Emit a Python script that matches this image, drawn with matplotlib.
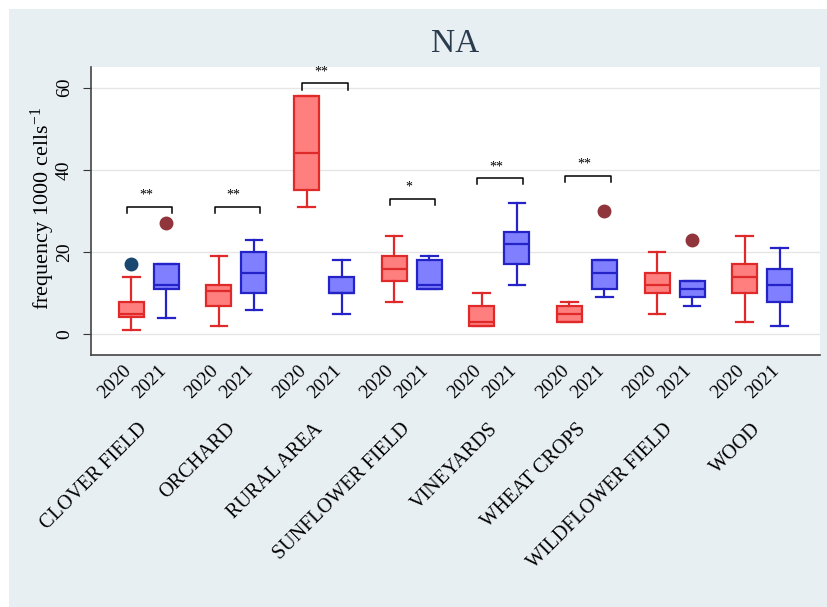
import numpy as np
import matplotlib
matplotlib.use("Agg")
import matplotlib.pyplot as plt
from matplotlib.patches import Rectangle
import matplotlib.transforms as mtransforms

plt.rcParams["font.family"] = ["Liberation Serif", "DejaVu Serif"]
plt.rcParams["mathtext.fontset"] = "custom"
plt.rcParams["mathtext.rm"] = "Liberation Serif"
plt.rcParams["mathtext.it"] = "Liberation Serif:italic"

categories = ["CLOVER FIELD", "ORCHARD", "RURAL AREA", "SUNFLOWER FIELD",
              "VINEYARDS", "WHEAT CROPS", "WILDFLOWER FIELD", "WOOD"]
years = ["2020", "2021"]

# box summaries
lo_2020 = [1, 2, 31, 8, 2, 3, 5, 3]
q1_2020 = [4.2, 7, 35, 13, 2, 3, 10, 10]
med_2020 = [5, 10.5, 44, 16, 3, 5, 12, 14]
q3_2020 = [7.9, 12, 58, 19, 7, 7, 15, 17]
hi_2020 = [14, 19, 58, 24, 10, 8, 20, 24]
out_2020 = [[17], [], [], [], [], [], [], []]

lo_2021 = [4, 6, 5, 11, 12, 9, 7, 2]
q1_2021 = [11, 10, 10, 11, 17, 11, 9, 8]
med_2021 = [12, 15, 10, 12, 22, 15, 11, 12]
q3_2021 = [17, 20, 14, 18, 25, 18, 13, 16]
hi_2021 = [17, 23, 18, 19, 32, 18, 13, 21]
out_2021 = [[27], [], [], [], [], [30], [23], []]

# significance brackets (category index, bracket height, label)
sig_idx = [0, 1, 2, 3, 4, 5]
sig_y = [31, 31, 61, 33, 38, 38.6]
sig_txt = ["**", "**", "**", "*", "**", "**"]

RED_EDGE, RED_FILL = "#e02a2a", "#ff7f7f"
BLUE_EDGE, BLUE_FILL = "#2323c8", "#7f7fff"
NAVY, MAROON = "#1a476f", "#90353b"
BG = "#e8eff2"


def make_stats(lo, q1, med, q3, hi, out):
    return [dict(whislo=a, q1=b, med=c, q3=d, whishi=e, fliers=f)
            for a, b, c, d, e, f in zip(lo, q1, med, q3, hi, out)]


fig = plt.figure(figsize=(8.28, 6.07), dpi=100, facecolor="white")
fig.add_artist(Rectangle((9 / 828, 0), 1, 1 - 9 / 607, transform=fig.transFigure,
                         facecolor=BG, edgecolor="none", zorder=-10))

ax = fig.add_axes([91 / 828, 1 - 355 / 607, 729 / 828, 288 / 607])
ax.set_facecolor("white")

x = np.arange(len(categories))
off = 0.2
w = 0.285

for stats, pos, ec, fc, oc in [
        (make_stats(lo_2020, q1_2020, med_2020, q3_2020, hi_2020, out_2020), x - off, RED_EDGE, RED_FILL, NAVY),
        (make_stats(lo_2021, q1_2021, med_2021, q3_2021, hi_2021, out_2021), x + off, BLUE_EDGE, BLUE_FILL, MAROON)]:
    ax.bxp(stats, positions=pos, widths=w, capwidths=0.19, patch_artist=True,
           boxprops=dict(facecolor=fc, edgecolor=ec, linewidth=1.6),
           medianprops=dict(color=ec, linewidth=1.6),
           whiskerprops=dict(color=ec, linewidth=1.6),
           capprops=dict(color=ec, linewidth=1.6),
           flierprops=dict(marker="o", markerfacecolor=oc, markeredgecolor=oc, markersize=9),
           manage_ticks=False, zorder=3)

for i, yb, s in zip(sig_idx, sig_y, sig_txt):
    xl, xr = x[i] - 0.25, x[i] + 0.27
    ax.plot([xl, xl, xr, xr], [yb - 1.5, yb, yb, yb - 1.5], color="black", lw=1.1, zorder=4)
    ax.text((xl + xr) / 2 - 0.04, yb + 1.2, s, ha="center", va="bottom", fontsize=10)

ax.set_xlim(-0.66, 7.66)
ax.set_ylim(-5, 65)

ax.set_yticks([0, 20, 40, 60])
ax.grid(axis="y", color="#e6e6e6", lw=1)
ax.set_axisbelow(True)
ax.tick_params(axis="y", labelsize=14, length=6, pad=7, color="#333333", labelrotation=90)
for t in ax.get_yticklabels():
    t.set_va("center")

ticks = np.ravel(np.column_stack([x - off, x + off]))
ax.set_xticks(ticks)
ax.set_xticklabels(years * len(categories), rotation=45, ha="right",
                   rotation_mode="anchor", fontsize=14)
ax.tick_params(axis="x", length=0, pad=5)
shift = mtransforms.ScaledTranslation(-9 / 100, 0, fig.dpi_scale_trans)
for t in ax.get_xticklabels():
    t.set_transform(t.get_transform() + shift)

for sp in ["top", "right"]:
    ax.spines[sp].set_visible(False)
for sp in ["left", "bottom"]:
    ax.spines[sp].set_color("#444444")
    ax.spines[sp].set_linewidth(1.2)

trans = mtransforms.blended_transform_factory(ax.transData, ax.transAxes) + \
    mtransforms.ScaledTranslation(-11 / 100, 0, fig.dpi_scale_trans)
for i, c in enumerate(categories):
    ax.text(x[i], -0.225, c, transform=trans, rotation=45, ha="right", va="top",
            rotation_mode="anchor", fontsize=14.5)

ax.set_ylabel("frequency 1000 cells$^{\\mathregular{-1}}$", fontsize=16)
ax.yaxis.set_label_coords(-0.046, 0.51)

fig.text(455 / 828, 1 - 44 / 607, "NA", ha="center", va="center", fontsize=24, color="#2b3c4f")

fig.savefig("out.png", dpi=100, facecolor=fig.get_facecolor())
